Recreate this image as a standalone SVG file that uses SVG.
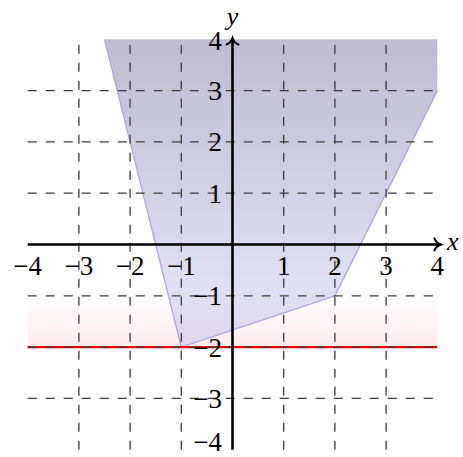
<svg xmlns="http://www.w3.org/2000/svg" width="463" height="457" viewBox="0 0 463 457">
  <defs>
    <linearGradient id="gBlue" gradientUnits="userSpaceOnUse" x1="0" y1="39.3" x2="0" y2="347.1">
      <stop offset="0" stop-color="#948fb3"/>
      <stop offset="0.8" stop-color="#cbc9ee"/>
      <stop offset="1" stop-color="#cbc9ee"/>
    </linearGradient>
    <linearGradient id="gRed" gradientUnits="userSpaceOnUse" x1="0" y1="295.8" x2="0" y2="347.1">
      <stop offset="0" stop-color="#ffffff"/>
      <stop offset="1" stop-color="#fdebee"/>
    </linearGradient>
    <marker id="arr" markerUnits="userSpaceOnUse" markerWidth="16" markerHeight="16" refX="8" refY="8" orient="auto" overflow="visible">
      <path d="M 1.5 2 C 2.5 5 5 7 8 8 C 5 9 2.5 11 1.5 14" fill="none" stroke="#000" stroke-width="2" stroke-linecap="round"/>
    </marker>
    <style>
      .grid { stroke: #3a3a3a; stroke-width: 1.3; stroke-dasharray: 9 9; fill: none; }
      .axis { stroke: #000; stroke-width: 2.6; fill: none; marker-end: url(#arr); }
      .lbl { font-family: "Liberation Serif", "Times New Roman", serif; font-size: 27px; fill: #000; }
      .xl { text-anchor: middle; }
      .yl { text-anchor: end; }
      .var { font-family: "Liberation Serif", "Times New Roman", serif; font-size: 26px; font-style: italic; fill: #000; }
    </style>
  </defs>

  <g id="band">
    <rect x="27.7" y="295.8" width="409.6" height="51.3" fill="url(#gRed)"/>
  </g>

  <g id="region">
    <polygon points="104.5,39.3 181.3,347.1 334.9,295.8 437.3,90.6 437.3,39.3" fill="url(#gBlue)" fill-opacity="0.6"/>
    <polyline points="104.5,39.3 181.3,347.1 334.9,295.8 437.3,90.6" fill="none" stroke="#abaae3" stroke-width="1.4" stroke-linejoin="round"/>
  </g>

  <g id="redline">
    <line x1="27.7" y1="347.1" x2="437.3" y2="347.1" stroke="#ff0000" stroke-width="2.2"/>
  </g>

  <g id="grid">
    <line class="grid" x1="78.9" y1="449.7" x2="78.9" y2="39.3"/>
    <line class="grid" x1="130.1" y1="449.7" x2="130.1" y2="39.3"/>
    <line class="grid" x1="181.3" y1="449.7" x2="181.3" y2="39.3"/>
    <line class="grid" x1="283.7" y1="449.7" x2="283.7" y2="39.3"/>
    <line class="grid" x1="334.9" y1="449.7" x2="334.9" y2="39.3"/>
    <line class="grid" x1="386.1" y1="449.7" x2="386.1" y2="39.3"/>
    <line class="grid" x1="27.7" y1="90.6" x2="437.3" y2="90.6"/>
    <line class="grid" x1="27.7" y1="141.9" x2="437.3" y2="141.9"/>
    <line class="grid" x1="27.7" y1="193.2" x2="437.3" y2="193.2"/>
    <line class="grid" x1="27.7" y1="295.8" x2="437.3" y2="295.8"/>
    <line class="grid" x1="27.7" y1="347.1" x2="437.3" y2="347.1"/>
    <line class="grid" x1="27.7" y1="398.4" x2="437.3" y2="398.4"/>
  </g>

  <g id="axes">
    <line class="axis" x1="27.7" y1="244.5" x2="441" y2="244.5"/>
    <line class="axis" x1="232.5" y1="449.7" x2="232.5" y2="38"/>
  </g>

  <g id="labels">
    <text class="var" x="447" y="250">x</text>
    <text class="var" x="232.5" y="25" text-anchor="middle">y</text>

    <text class="lbl xl" x="27.7" y="274.5">−4</text>
    <text class="lbl xl" x="78.9" y="274.5">−3</text>
    <text class="lbl xl" x="130.1" y="274.5">−2</text>
    <text class="lbl xl" x="181.3" y="274.5">−1</text>
    <text class="lbl xl" x="283.7" y="274.5">1</text>
    <text class="lbl xl" x="334.9" y="274.5">2</text>
    <text class="lbl xl" x="386.1" y="274.5">3</text>
    <text class="lbl xl" x="437.3" y="274.5">4</text>

    <text class="lbl yl" x="222" y="49.5">4</text>
    <text class="lbl yl" x="222" y="100">3</text>
    <text class="lbl yl" x="222" y="151">2</text>
    <text class="lbl yl" x="222" y="202.5">1</text>
    <text class="lbl yl" x="222" y="305">−1</text>
    <text class="lbl yl" x="222" y="356.5">−2</text>
    <text class="lbl yl" x="222" y="407.5">−3</text>
    <text class="lbl yl" x="222" y="451">−4</text>
  </g>
</svg>
